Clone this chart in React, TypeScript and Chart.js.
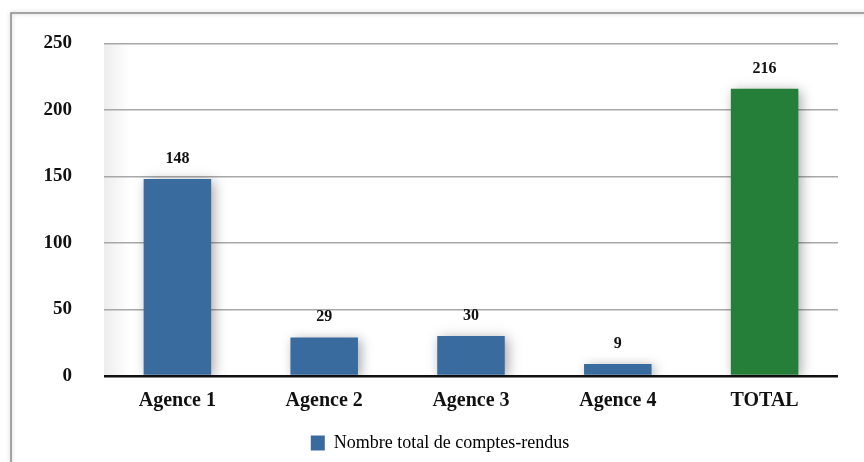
import React, { useEffect, useRef } from "react";
import { Chart, registerables } from "chart.js";

Chart.register(...registerables);

const categories = ["Agence 1", "Agence 2", "Agence 3", "Agence 4", "TOTAL"];
const values = [148, 29, 30, 9, 216];
const barColors = ["#3a6b9f", "#3a6b9f", "#3a6b9f", "#3a6b9f", "#267f38"];
const seriesLabel = "Nombre total de comptes-rendus";
const yMax = 250;
const yStep = 50;

const SERIF = "'Liberation Serif', 'Times New Roman', serif";

export default function App() {
  const ref = useRef<HTMLCanvasElement | null>(null);

  useEffect(() => {
    document.body.style.margin = "0";
    const canvas = ref.current;
    if (!canvas) return;

    const framePlugin = {
      id: "frame",
      beforeDraw(chart: any) {
        const ctx = chart.ctx;
        ctx.save();
        ctx.fillStyle = "#ffffff";
        ctx.fillRect(0, 0, chart.width, chart.height);
        ctx.shadowColor = "rgba(0,0,0,0.25)";
        ctx.shadowBlur = 4;
        ctx.strokeStyle = "#8c8c8c";
        ctx.lineWidth = 1.5;
        ctx.strokeRect(11, 13, chart.width + 20, chart.height + 20);
        ctx.restore();
        const a = chart.chartArea;
        ctx.save();
        const g = ctx.createLinearGradient(a.left, 0, a.left + 26, 0);
        g.addColorStop(0, "rgba(0,0,0,0.07)");
        g.addColorStop(1, "rgba(0,0,0,0)");
        ctx.fillStyle = g;
        ctx.fillRect(a.left, a.top, 26, a.bottom - a.top);
        ctx.restore();
      },
    };

    const shadowPlugin = {
      id: "barShadow",
      beforeDatasetsDraw(chart: any) {
        const ctx = chart.ctx;
        ctx.save();
        ctx.shadowColor = "rgba(0,0,0,0.35)";
        ctx.shadowBlur = 12;
        ctx.shadowOffsetX = 3;
        ctx.shadowOffsetY = 2;
      },
      afterDatasetsDraw(chart: any) {
        const ctx = chart.ctx;
        ctx.restore();
        const meta = chart.getDatasetMeta(0);
        ctx.save();
        ctx.fillStyle = "#111111";
        ctx.font = `bold 16px ${SERIF}`;
        ctx.textAlign = "center";
        ctx.textBaseline = "alphabetic";
        meta.data.forEach((bar: any, i: number) => {
          ctx.fillText(String(chart.data.datasets[0].data[i]), bar.x, bar.y - 16);
        });
        ctx.restore();
      },
    };

    const chart = new Chart(canvas, {
      type: "bar",
      data: {
        labels: categories,
        datasets: [
          {
            label: seriesLabel,
            data: values,
            backgroundColor: barColors,
            borderWidth: 0,
            barPercentage: 0.46,
            categoryPercentage: 1,
          },
        ],
      },
      options: {
        responsive: false,
        animation: false,
        layout: { autoPadding: false, padding: { top: 41, right: 26, bottom: 0, left: 42 } },
        plugins: {
          tooltip: { enabled: false },
          legend: {
            display: true,
            position: "bottom",
            labels: {
              boxWidth: 14,
              boxHeight: 15,
              padding: 5,
              color: "#222222",
              font: { family: SERIF, size: 18 },
              generateLabels: () => [
                {
                  text: seriesLabel,
                  fillStyle: barColors[0],
                  strokeStyle: barColors[0],
                  lineWidth: 0,
                  hidden: false,
                  datasetIndex: 0,
                } as any,
              ],
            },
          },
        },
        scales: {
          x: {
            grid: { display: false, drawTicks: false },
            border: { display: false },
            ticks: {
              color: "#111111",
              padding: 13,
              font: { family: SERIF, size: 20, weight: "bold" },
            },
            afterFit: (s: any) => {
              s.height = 53;
            },
          },
          y: {
            min: 0,
            max: yMax,
            border: { display: false },
            grid: {
              drawTicks: false,
              color: (c: any) => (c.tick && c.tick.value === 0 ? "#111111" : "#a8a8a8"),
              lineWidth: (c: any) => (c.tick && c.tick.value === 0 ? 2.5 : 1.5),
            },
            ticks: {
              stepSize: yStep,
              color: "#111111",
              padding: 32,
              font: { family: SERIF, size: 19, weight: "bold" },
            },
            afterFit: (s: any) => {
              s.width = 62;
            },
          },
        },
      },
      plugins: [framePlugin, shadowPlugin],
    });

    return () => chart.destroy();
  }, []);

  return <canvas ref={ref} width={864} height={462} style={{ display: "block" }} />;
}
